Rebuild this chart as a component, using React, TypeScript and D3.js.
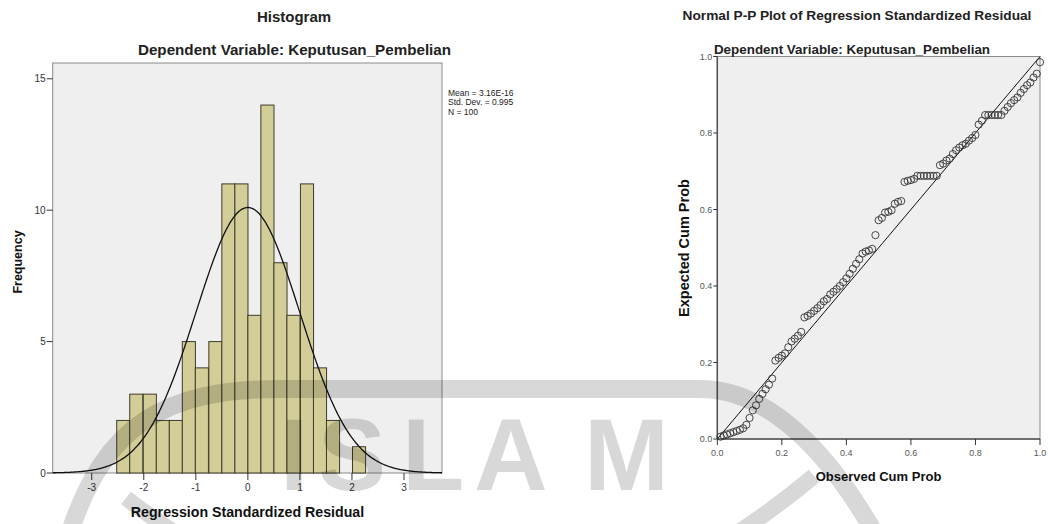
import * as d3 from "d3";

// histogram bins (lower edge) and counts
const binLo = [-2.52, -2.27, -2.01, -1.76, -1.51, -1.26, -1.01, -0.75, -0.5, -0.25, 0, 0.25, 0.5, 0.75, 1.01, 1.26, 1.51, 1.76, 2.01];
const counts = [2, 3, 3, 2, 2, 5, 4, 5, 11, 11, 6, 14, 8, 6, 11, 4, 2, 0, 1];
const binWidth = 0.252;
const stats = { mean: 3.16e-16, sd: 0.995, n: 100 };
const statLines = ["Mean = 3.16E-16", "Std. Dev. = 0.995", "N = 100"];
const histXTicks = [-3, -2, -1, 0, 1, 2, 3];
const histYTicks = [0, 5, 10, 15];

// P-P plot points
const observed = [
  0.01, 0.02, 0.03, 0.04, 0.05, 0.06, 0.07, 0.08, 0.09, 0.1,
  0.11, 0.12, 0.13, 0.14, 0.15, 0.16, 0.17, 0.18, 0.19, 0.2,
  0.21, 0.22, 0.23, 0.24, 0.25, 0.26, 0.27, 0.28, 0.29, 0.3,
  0.31, 0.32, 0.33, 0.34, 0.35, 0.36, 0.37, 0.38, 0.39, 0.4,
  0.41, 0.42, 0.43, 0.44, 0.45, 0.46, 0.47, 0.48, 0.49, 0.5,
  0.51, 0.52, 0.53, 0.54, 0.55, 0.56, 0.57, 0.58, 0.59, 0.6,
  0.61, 0.62, 0.63, 0.64, 0.65, 0.66, 0.67, 0.68, 0.69, 0.7,
  0.71, 0.72, 0.73, 0.74, 0.75, 0.76, 0.77, 0.78, 0.79, 0.8,
  0.81, 0.82, 0.83, 0.84, 0.85, 0.86, 0.87, 0.88, 0.89, 0.9,
  0.91, 0.92, 0.93, 0.94, 0.95, 0.96, 0.97, 0.98, 0.99, 1.0,
];
const expected = [
  0.006, 0.009, 0.012, 0.015, 0.018, 0.021, 0.024, 0.028, 0.037, 0.055,
  0.075, 0.088, 0.105, 0.118, 0.13, 0.142, 0.158, 0.205, 0.212, 0.218,
  0.224, 0.24, 0.255, 0.262, 0.27, 0.28, 0.318, 0.322, 0.328, 0.335,
  0.342, 0.35, 0.36, 0.366, 0.378, 0.385, 0.392, 0.4, 0.41, 0.42,
  0.432, 0.445, 0.458, 0.47, 0.485, 0.49, 0.493, 0.497, 0.533, 0.572,
  0.578, 0.592, 0.594, 0.598, 0.615, 0.62, 0.622, 0.672, 0.675, 0.677,
  0.68, 0.688, 0.688, 0.688, 0.688, 0.688, 0.688, 0.688, 0.716, 0.72,
  0.728, 0.733, 0.745, 0.755, 0.762, 0.768, 0.772, 0.78, 0.787, 0.795,
  0.822, 0.832, 0.847, 0.847, 0.847, 0.847, 0.847, 0.847, 0.858, 0.868,
  0.878, 0.886, 0.893, 0.905, 0.915, 0.925, 0.932, 0.945, 0.955, 0.985,
];
const ppTicks = [0, 0.2, 0.4, 0.6, 0.8, 1.0];

// watermark letters
const wmLetters = ["I", "S", "L", "A", "M"];
const wmX = [280, 318, 402, 474, 584];

const FONT = "'Liberation Sans', Arial, sans-serif";

export default function App() {
  // histogram scales
  const hx = d3.scaleLinear().domain([-3.75, 3.73]).range([52.7, 442]);
  const hy = d3.scaleLinear().domain([0, 15.6]).range([473, 63]);

  const pdf = (v: number) =>
    (stats.n * binWidth) / (stats.sd * Math.sqrt(2 * Math.PI)) *
    Math.exp(-0.5 * ((v - stats.mean) / stats.sd) ** 2);
  const curvePts = d3.range(-3.75, 3.7301, 0.02).map(v => [v, pdf(v)] as [number, number]);
  const curve = d3.line<[number, number]>().x(d => hx(d[0])).y(d => hy(d[1])).curve(d3.curveBasis)(curvePts) || "";

  // pp scales
  const px = d3.scaleLinear().domain([0, 1]).range([717.3, 1040]);
  const py = d3.scaleLinear().domain([0, 1]).range([439, 56.5]);
  const f1 = d3.format(".1f");

  return (
    <svg
      width={1048}
      height={524}
      style={{ position: "absolute", left: 0, top: 0, background: "#fff", fontFamily: FONT }}
    >
      {/* ---------- Histogram ---------- */}
      <rect x={hx.range()[0]} y={hy.range()[1]} width={hx.range()[1] - hx.range()[0]} height={hy.range()[0] - hy.range()[1]} fill="#efefef" stroke="#8a8a8a" strokeWidth={1} />

      {binLo.map((lo, i) =>
        counts[i] > 0 ? (
          <rect
            key={i}
            x={hx(lo)}
            y={hy(counts[i])}
            width={hx(lo + binWidth) - hx(lo)}
            height={hy(0) - hy(counts[i])}
            fill="#d3ce97"
            stroke="#3c3a2c"
            strokeWidth={1}
          />
        ) : null,
      )}

      <path d={curve} fill="none" stroke="#111" strokeWidth={1.3} />

      <text x={294} y={22} textAnchor="middle" fontSize={15} fontWeight="bold" fill="#222">Histogram</text>
      <text x={294.5} y={55} textAnchor="middle" fontSize={15.2} fontWeight="bold" fill="#222">Dependent Variable: Keputusan_Pembelian</text>

      {/* axes */}
      {histYTicks.map(t => (
        <g key={t}>
          <line x1={hx.range()[0] - 6} x2={hx.range()[0]} y1={hy(t)} y2={hy(t)} stroke="#333" />
          <text x={hx.range()[0] - 7} y={hy(t) + 3.5} textAnchor="end" fontSize={10} fill="#333">{t}</text>
        </g>
      ))}
      {histXTicks.map(t => (
        <g key={t}>
          <line x1={hx(t)} x2={hx(t)} y1={hy(0)} y2={hy(0) + 7} stroke="#333" />
          <text x={hx(t)} y={hy(0) + 18} textAnchor="middle" fontSize={10} fill="#333">{t}</text>
        </g>
      ))}
      <text transform="translate(22,262) rotate(-90)" textAnchor="middle" fontSize={12.5} fontWeight="bold" fill="#111">Frequency</text>
      <text x={247.5} y={517} textAnchor="middle" fontSize={14.2} fontWeight="bold" fill="#111">Regression Standardized Residual</text>

      {statLines.map((s, i) => (
        <text key={s} x={448} y={95.5 + i * 9.5} fontSize={8.5} fill="#222">{s}</text>
      ))}

      {/* ---------- P-P plot ---------- */}
      <rect x={px(0)} y={py(1)} width={px(1) - px(0)} height={py(0) - py(1)} fill="#efefef" stroke="#8a8a8a" strokeWidth={1} />
      <line x1={px(0)} x2={px(0)} y1={py(0)} y2={py(1)} stroke="#555" strokeWidth={1.5} />
      <line x1={px(0)} x2={px(1)} y1={py(0)} y2={py(0)} stroke="#555" strokeWidth={1.5} />

      <text x={857} y={20} textAnchor="middle" fontSize={13.7} fontWeight="bold" fill="#222">Normal P-P Plot of Regression Standardized Residual</text>
      <text x={852} y={53.5} textAnchor="middle" fontSize={13.4} fontWeight="bold" fill="#222">Dependent Variable: Keputusan_Pembelian</text>

      <line x1={px(0)} y1={py(0)} x2={px(1)} y2={py(1)} stroke="#111" strokeWidth={1} />
      {observed.map((o, i) => (
        <circle key={i} cx={px(o)} cy={py(expected[i])} r={3.6} fill="none" stroke="#333" strokeWidth={0.9} />
      ))}

      {ppTicks.map(t => (
        <g key={t}>
          <line x1={px(0) - 4} x2={px(0)} y1={py(t)} y2={py(t)} stroke="#333" />
          <text x={px(0) - 5} y={py(t) + 3} textAnchor="end" fontSize={9} fill="#555">{f1(t)}</text>
          <line x1={px(t)} x2={px(t)} y1={py(0)} y2={py(0) + 6} stroke="#333" />
          <text x={px(t)} y={py(0) + 17} textAnchor="middle" fontSize={9} fill="#555">{f1(t)}</text>
        </g>
      ))}
      <text transform="translate(689,248) rotate(-90)" textAnchor="middle" fontSize={14.5} fontWeight="bold" fill="#111">Expected Cum Prob</text>
      <text x={878.5} y={481} textAnchor="middle" fontSize={13} fontWeight="bold" fill="#111">Observed Cum Prob</text>

      {/* ---------- watermark ---------- */}
      <g opacity={0.15} pointerEvents="none">
        <path d="M 70,532 C 105,425 165,389 280,389 L 700,389 C 770,389 830,455 874,532" fill="none" stroke="#000" strokeWidth={18} />
        <path d="M 126,498 Q 470,762 814,476" fill="none" stroke="#000" strokeWidth={16} />
        <text y={490} fontSize={102} fontWeight="bold" fill="#000">
          {wmLetters.map((l, i) => (
            <tspan key={l} x={wmX[i]}>{l}</tspan>
          ))}
        </text>
      </g>
    </svg>
  );
}
